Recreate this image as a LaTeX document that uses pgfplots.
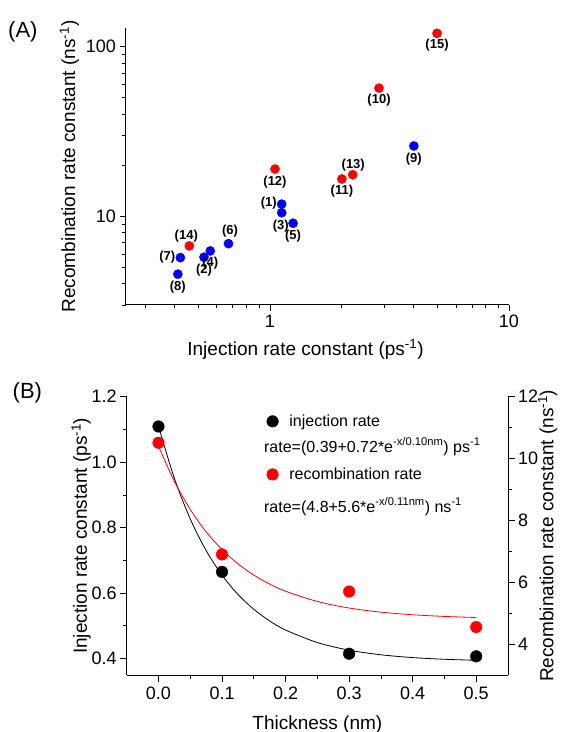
\documentclass[border=0pt]{standalone}
\usepackage{fontspec}
\setmainfont{Liberation Sans}
\usepackage{pgfplots}
\usepackage{pgfplotstable}
\pgfplotsset{compat=1.18}
\definecolor{pblue}{RGB}{0,0,255}
\definecolor{pred}{RGB}{255,0,0}

\pgfplotstableread{
x y lab dx dy
1.12 11.8 (1) -13 1
0.53 5.74 (2) 0 -13
1.12 10.5 (3) -1 -13
0.563 6.25 (4) 0 -12
1.25 9.1 (5) 0 -13
0.671 6.9 (6) 1.5 12.5
0.422 5.71 (7) -13 0
0.412 4.56 (8) 0 -12.5
4.0 26 (9) 0 -13
}\bluetab

\pgfplotstableread{
x y lab dx dy
2.86 57 (10) 0 -12
2.0 16.6 (11) 0 -12
1.05 19.0 (12) 0 -13
2.22 17.6 (13) 0.5 10
0.46 6.69 (14) -3 10
5.0 120 (15) 0 -12
}\redtab

\pgfplotstableread{
x y
0 1.109
0.1 0.665
0.3 0.415
0.5 0.407
}\injpts

\pgfplotstableread{
x y
0 10.51
0.1 6.90
0.3 5.70
0.5 4.55
}\recpts

\pgfplotstableread{
x y
0 1.110
0.025 0.9507
0.05 0.8267
0.075 0.7301
0.1 0.6549
0.125 0.5963
0.15 0.5507
0.175 0.5151
0.2 0.4874
0.25 0.4491
0.3 0.4258
0.35 0.4117
0.4 0.4032
0.45 0.3980
0.5 0.3949
}\injfit

\pgfplotstableread{
x y
0 10.40
0.025 9.262
0.05 8.355
0.075 7.632
0.1 7.056
0.125 6.598
0.15 6.232
0.175 5.941
0.2 5.709
0.25 5.377
0.3 5.166
0.35 5.032
0.4 4.948
0.45 4.894
0.5 4.859
}\recfit

\pgfplotsset{
  originstyle/.style={
    scale only axis,
    clip=false,
    tick align=outside,
    major tick length=6.5pt,
    minor tick length=3.5pt,
    tick style={black, line width=0.8pt},
    axis line style={black, line width=1pt, -},
    /pgf/number format/assume math mode=true,
    tick label style={font=\fontsize{18}{20}\selectfont},
    label style={font=\fontsize{19}{22}\selectfont},
  },
  ptlabels/.style={
    only marks, mark=*, mark size=4.6pt,
    nodes near coords,
    point meta=explicit symbolic,
    visualization depends on={\thisrow{dx} \as \dx},
    visualization depends on={\thisrow{dy} \as \dy},
    every node near coord/.append style={anchor=center, xshift=\dx pt, yshift=\dy pt,
      font=\fontsize{13}{14}\selectfont\bfseries, text=black, inner sep=0pt},
  },
}

\begin{document}
\begin{tikzpicture}
\path[use as bounding box] (0,0) rectangle (561pt,732pt);

% ---------------- (A) ----------------
\begin{axis}[originstyle,
  at={(126pt,427pt)}, anchor=south west,
  width=383pt, height=277pt,
  xmode=log, ymode=log,
  xmin=0.25, xmax=10, ymin=3, ymax=129,
  axis x line*=bottom, axis y line*=left,
  xtick={1,10}, xticklabels={1,10},
  ytick={10,100}, yticklabels={10,100},
  minor xtick={0.3,0.4,0.5,0.6,0.7,0.8,0.9,2,3,4,5,6,7,8,9},
  minor ytick={3,4,5,6,7,8,9,20,30,40,50,60,70,80,90},
  xlabel={Injection rate constant (ps\textsuperscript{-1})},
  ylabel={Recombination rate constant (ns\textsuperscript{-1})},
  xlabel style={xshift=-12pt, yshift=-5pt},
]
\addplot[ptlabels, color=pblue, mark options={fill=pblue, draw=pblue}] table[x=x, y=y, meta=lab] {\bluetab};
\addplot[ptlabels, color=pred, mark options={fill=pred, draw=pred}] table[x=x, y=y, meta=lab] {\redtab};
\end{axis}

% ---------------- (B) left axis ----------------
\begin{axis}[originstyle,
  at={(126.7pt,57pt)}, anchor=south west,
  width=381.3pt, height=278.3pt,
  xmin=-0.05, xmax=0.55, ymin=0.35, ymax=1.2,
  axis x line*=bottom, axis y line*=left,
  xtick={0,0.1,0.2,0.3,0.4,0.5}, minor x tick num=1,
  ytick={0.4,0.6,0.8,1.0,1.2}, minor y tick num=1,
  xticklabel style={yshift=-2pt, /pgf/number format/.cd, fixed, fixed zerofill, precision=1},
  yticklabel style={/pgf/number format/.cd, fixed, fixed zerofill, precision=1},
  xlabel={Thickness (nm)},
  ylabel={Injection rate constant (ps\textsuperscript{-1})},
  xlabel style={yshift=-9pt},
  ylabel style={yshift=-6pt},
  legend style={draw=none, fill=none, at={(axis description cs:0.359,0.950)}, anchor=north west,
    font=\fontsize{16}{19}\selectfont, row sep=36pt,
    /tikz/every odd column/.append style={column sep=9pt}},
  legend cell align=left,
]
\addplot[black, line width=0.8pt, smooth, forget plot] table[x=x, y=y] {\injfit};
\addplot[only marks, mark=*, mark size=5.8pt, black, mark options={fill=black, draw=black}] table[x=x, y=y] {\injpts};
\addlegendentry{injection rate}
\addlegendimage{only marks, mark=*, mark size=5.8pt, pred, mark options={fill=pred, draw=pred}}
\addlegendentry{recombination rate}
\node[anchor=west, inner sep=0pt, font=\fontsize{16}{19}\selectfont] at (axis description cs:0.360,0.8203)
  {rate=(0.39+0.72*e\textsuperscript{-x/0.10nm}) ps\textsuperscript{-1}};
\node[anchor=west, inner sep=0pt, font=\fontsize{16}{19}\selectfont] at (axis description cs:0.360,0.6047)
  {rate=(4.8+5.6*e\textsuperscript{-x/0.11nm}) ns\textsuperscript{-1}};
\end{axis}

% ---------------- (B) right axis ----------------
\begin{axis}[originstyle,
  at={(126.7pt,57pt)}, anchor=south west,
  width=381.3pt, height=278.3pt,
  xmin=-0.05, xmax=0.55, ymin=3, ymax=12,
  axis x line=none, axis y line*=right,
  ytick={4,6,8,10,12}, minor y tick num=1,
  ylabel={Recombination rate constant (ns\textsuperscript{-1})},
  ylabel style={yshift=7pt},
]
\addplot[pred, line width=0.8pt, smooth] table[x=x, y=y] {\recfit};
\addplot[only marks, mark=*, mark size=5.8pt, pred, mark options={fill=pred, draw=pred}] table[x=x, y=y] {\recpts};
\end{axis}

\node[anchor=west, inner sep=0pt, font=\fontsize{22}{24}\selectfont] at (8pt,700pt) {(A)};
\node[anchor=west, inner sep=0pt, font=\fontsize{22}{24}\selectfont] at (12.5pt,339pt) {(B)};
\end{tikzpicture}
\end{document}
